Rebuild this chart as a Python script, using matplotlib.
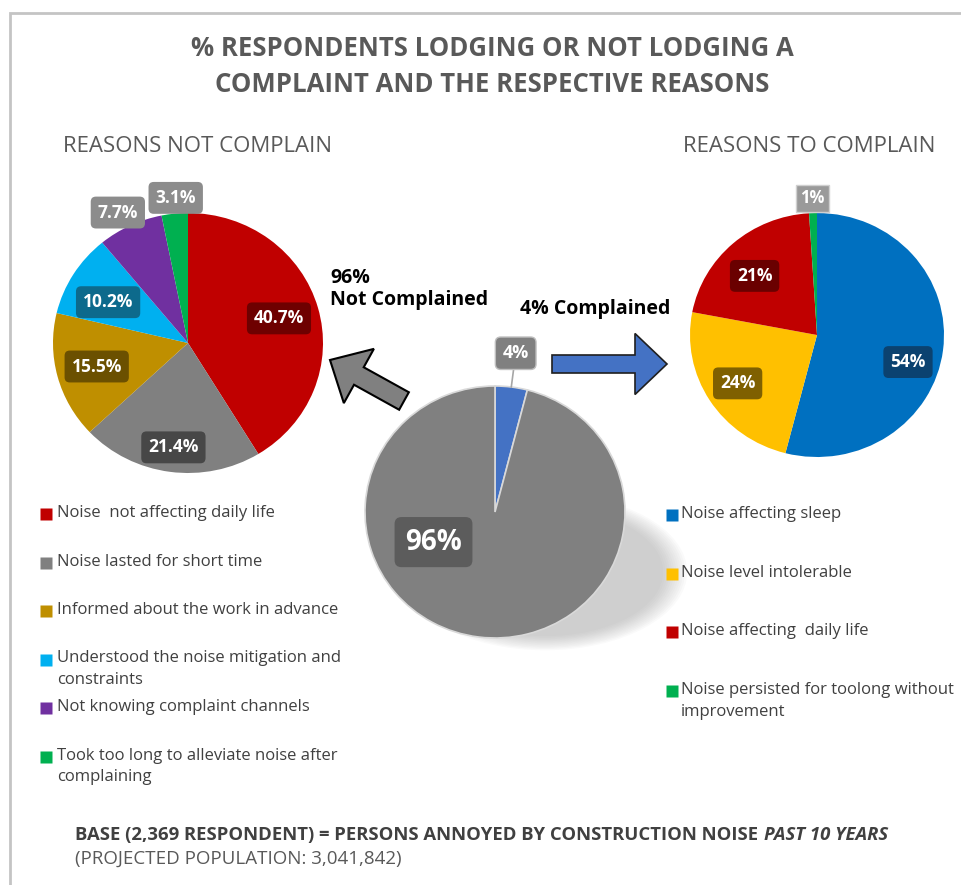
import numpy as np
import matplotlib.pyplot as plt
from matplotlib.patches import FancyArrow, Ellipse

W, H = 961, 885
plt.rcParams['font.family'] = ['Open Sans', 'DejaVu Sans']

# overall split
overall_labels = ['Complained', 'Not Complained']
overall_values = [4, 96]
overall_colors = ['#4472C4', '#808080']

# reasons for not complaining
not_labels = ['Noise  not affecting daily life',
              'Noise lasted for short time',
              'Informed about the work in advance',
              'Understood the noise mitigation and\nconstraints',
              'Not knowing complaint channels',
              'Took too long to alleviate noise after\ncomplaining']
not_values = [40.7, 21.4, 15.5, 10.2, 7.7, 3.1]
not_colors = ['#C00000', '#808080', '#BF8F00', '#00B0F0', '#7030A0', '#00B050']
not_boxes = ['#6e0000', '#474747', '#6b5000', '#0d6a8c', '#8c8c8c', '#8c8c8c']

# reasons for complaining
yes_labels = ['Noise affecting sleep',
              'Noise level intolerable',
              'Noise affecting  daily life',
              'Noise persisted for toolong without\nimprovement']
yes_values = [54, 24, 21, 1]
yes_colors = ['#0070C0', '#FFC000', '#C00000', '#00B050']
yes_boxes = ['#0b4270', '#7f6000', '#6a0000', '#9a9a9a']

TEXT = '#404040'
HEAD = '#595959'


def pie_axes(cx, cy, rx, ry):
    return fig.add_axes([(cx - rx) / W, 1 - (cy + ry) / H, 2 * rx / W, 2 * ry / H])


def draw_pie(ax, values, colors, boxes, dist, dtheta, fs, edge=None):
    wp = dict(linewidth=0) if edge is None else dict(edgecolor=edge, linewidth=1.2)
    wedges, _ = ax.pie(values, colors=colors, startangle=90, counterclock=False,
                       radius=1, wedgeprops=wp)
    ax.set_aspect('auto')
    ax.set_xlim(-1, 1)
    ax.set_ylim(-1, 1)
    ax.axis('off')
    labels, angles = [], []
    for w, v, bc, r, dt in zip(wedges, values, boxes, dist, dtheta):
        ang = np.deg2rad((w.theta1 + w.theta2) / 2 + dt)
        t = ax.text(r * np.cos(ang), r * np.sin(ang), f'{v:g}%', ha='center',
                    va='center', color='white', fontsize=fs, fontweight='bold',
                    clip_on=False,
                    bbox=dict(boxstyle='round,pad=0.4,rounding_size=0.3', fc=bc, ec='none'))
        labels.append(t)
        angles.append(ang)
    return labels, angles


fig = plt.figure(figsize=(W / 100, H / 100), dpi=100)
bg = fig.add_axes([0, 0, 1, 1])
bg.set_xlim(0, W)
bg.set_ylim(H, 0)
bg.axis('off')

# frame lines
bg.plot([10, 10, W], [H, 13, 13], color='#c4c4c4', lw=2, solid_joinstyle='miter')

# titles
bg.text(492, 48, '% RESPONDENTS LODGING OR NOT LODGING A', ha='center', va='center',
        fontsize=18.5, fontweight='bold', color=HEAD)
bg.text(492, 84, 'COMPLAINT AND THE RESPECTIVE REASONS', ha='center', va='center',
        fontsize=18.5, fontweight='bold', color=HEAD)
bg.text(63, 147, 'REASONS NOT COMPLAIN', ha='left', va='center', fontsize=16, color=HEAD)
bg.text(683, 147, 'REASONS TO COMPLAIN', ha='left', va='center', fontsize=16, color=HEAD)

# annotations and arrows
bg.text(330, 289, '96%\nNot Complained', ha='left', va='center', fontsize=14,
        fontweight='bold', color='black', linespacing=1.1)
bg.text(520, 309, '4% Complained', ha='left', va='center', fontsize=14,
        fontweight='bold', color='black')
bg.add_patch(FancyArrow(404, 401, -74, -41, width=20, head_width=62, head_length=33,
                        length_includes_head=True, fc='#808080', ec='black', lw=1.5))
bg.add_patch(FancyArrow(552, 364, 115, 0, width=18, head_width=61, head_length=32,
                        length_includes_head=True, fc='#4472C4', ec='#1f1f1f', lw=1.2))

# soft shadow under centre pie
for k in range(12):
    bg.add_patch(Ellipse((545, 572), 2 * (118 + 2.2 * k), 2 * (64 + 1.3 * k),
                         fc='#8c8c8c', ec='none', alpha=0.04))

# centre pie
ax_c = pie_axes(495, 512, 130, 126)
labs, angs = draw_pie(ax_c, overall_values, overall_colors, ['#808080', '#5c5c5c'],
                      [1.27, 0.53], [0, -56], 13, edge='#d9d9d9')
labs[1].set_fontsize(20)
labs[1].get_bbox_patch().set_boxstyle('round,pad=0.38,rounding_size=0.25')
labs[0].get_bbox_patch().set_edgecolor('#bfbfbf')
a = angs[0]
ax_c.plot([np.cos(a), 1.15 * np.cos(a)], [np.sin(a), 1.15 * np.sin(a)],
          color='#a6a6a6', lw=1.2, clip_on=False)

# left pie
ax_l = pie_axes(188, 343, 135, 130)
draw_pie(ax_l, not_values, not_colors, not_boxes,
         [0.70, 0.81, 0.70, 0.67, 1.13, 1.12], [0, 0, 0, 4, 2, -1], 12.5)

# right pie
ax_r = pie_axes(817, 335, 127, 122)
labs, angs = draw_pie(ax_r, yes_values, yes_colors, yes_boxes,
                      [0.75, 0.74, 0.69, 1.12], [-10, 0, 4, 0], 12.5)
labs[3].set_fontsize(12)
labs[3].get_bbox_patch().set_boxstyle('square,pad=0.25')
labs[3].get_bbox_patch().set_edgecolor('#d0d0d0')

# legends
for i, (lab, col) in enumerate(zip(not_labels, not_colors)):
    y = 514 + i * 48.5
    bg.plot(46, y, marker='s', ms=8, color=col, mec='none')
    bg.text(57, y - 9, lab, ha='left', va='top', fontsize=12, color=TEXT,
            linespacing=1.45)

for i, (lab, col) in enumerate(zip(yes_labels, yes_colors)):
    y = 515 + i * 58.7
    bg.plot(672, y, marker='s', ms=8, color=col, mec='none')
    bg.text(681, y - 9, lab, ha='left', va='top', fontsize=12, color=TEXT,
            linespacing=1.45)

# footer
t1 = bg.text(75, 835, 'BASE (2,369 RESPONDENT) = PERSONS ANNOYED BY CONSTRUCTION NOISE',
             ha='left', va='center', fontsize=13.3, fontweight='bold', color=TEXT)
bg.annotate('PAST 10 YEARS', xy=(1, 0), xycoords=t1, xytext=(4, 0),
            textcoords='offset points', ha='left', va='bottom', fontsize=13.3,
            fontweight='bold', fontstyle='italic', color=TEXT)
bg.text(75, 859, '(PROJECTED POPULATION: 3,041,842)', ha='left', va='center',
        fontsize=13.5, color=HEAD)

fig.savefig('out.png', dpi=100)
